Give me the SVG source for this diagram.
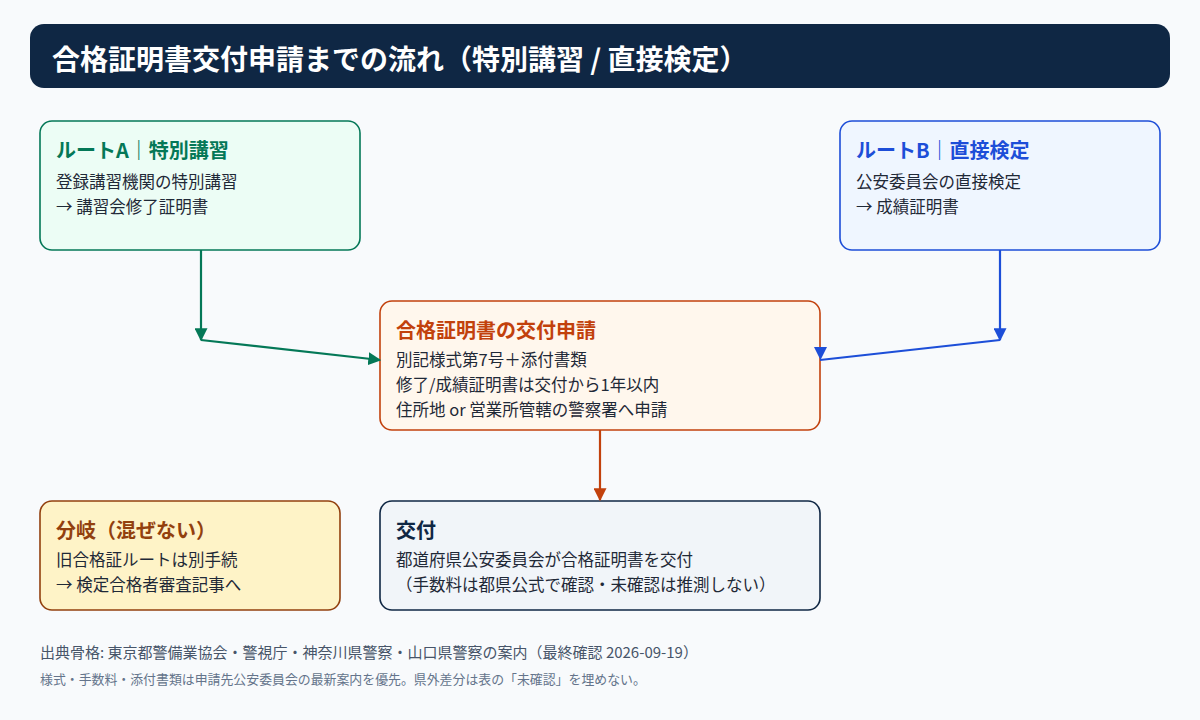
<svg xmlns="http://www.w3.org/2000/svg" width="1200" height="720" viewBox="0 0 1200 720">
<defs>
<style>
text{font-family:"Noto Sans CJK JP","Noto Sans",sans-serif;}
.t{font-size:20px;font-weight:700;}
.b{font-size:16.5px;fill:#1f2937;}
.box{stroke-width:1.6;}
</style>
<marker id="ag" viewBox="0 0 10 10" refX="9" refY="5" markerWidth="13" markerHeight="13" markerUnits="userSpaceOnUse" orient="auto"><path d="M0,0L10,5L0,10z" fill="#047857"/></marker>
<marker id="ab" viewBox="0 0 10 10" refX="9" refY="5" markerWidth="13" markerHeight="13" markerUnits="userSpaceOnUse" orient="auto"><path d="M0,0L10,5L0,10z" fill="#1d4ed8"/></marker>
<marker id="ao" viewBox="0 0 10 10" refX="9" refY="5" markerWidth="13" markerHeight="13" markerUnits="userSpaceOnUse" orient="auto"><path d="M0,0L10,5L0,10z" fill="#c2410c"/></marker>
</defs>
<rect width="1200" height="720" fill="#f8fafc"/>
<g id="title"><rect x="30" y="24" width="1140" height="64" rx="14" fill="#0f2744"/>
<text x="52" y="70" font-size="28" font-weight="700" fill="#fff">合格証明書交付申請までの流れ（特別講習 / 直接検定）</text></g>
<g id="routeA"><rect class="box" x="40" y="121" width="320" height="129" rx="12" fill="#ecfdf5" stroke="#047857"/>
<text class="t" x="56" y="158" fill="#047857">ルートA｜特別講習</text>
<text class="b" x="56" y="188">登録講習機関の特別講習</text>
<text class="b" x="56" y="213">→ 講習会修了証明書</text></g>
<g id="routeB"><rect class="box" x="840" y="121" width="320" height="129" rx="12" fill="#eff6ff" stroke="#1d4ed8"/>
<text class="t" x="856" y="158" fill="#1d4ed8">ルートB｜直接検定</text>
<text class="b" x="856" y="188">公安委員会の直接検定</text>
<text class="b" x="856" y="213">→ 成績証明書</text></g>
<g id="apply"><rect class="box" x="380" y="301" width="440" height="129" rx="12" fill="#fff7ed" stroke="#c2410c"/>
<text class="t" x="396" y="338" fill="#c2410c">合格証明書の交付申請</text>
<text class="b" x="396" y="366">別記様式第7号＋添付書類</text>
<text class="b" x="396" y="391">修了/成績証明書は交付から1年以内</text>
<text class="b" x="396" y="416">住所地 or 営業所管轄の警察署へ申請</text></g>
<g id="branch"><rect class="box" x="40" y="501" width="300" height="109" rx="12" fill="#fef3c7" stroke="#92400e"/>
<text class="t" x="56" y="538" fill="#92400e">分岐（混ぜない）</text>
<text class="b" x="56" y="566">旧合格証ルートは別手続</text>
<text class="b" x="56" y="591">→ 検定合格者審査記事へ</text></g>
<g id="issue"><rect class="box" x="380" y="501" width="440" height="109" rx="12" fill="#f1f5f9" stroke="#0f2744"/>
<text class="t" x="396" y="538" fill="#0f2744">交付</text>
<text class="b" x="396" y="566">都道府県公安委員会が合格証明書を交付</text>
<text class="b" x="396" y="591">（手数料は都県公式で確認・未確認は推測しない）</text></g>
<g id="connectors" fill="none" stroke-width="2.2">
<path d="M201,250V340" stroke="#047857" marker-end="url(#ag)"/>
<path d="M201,340L380,360" stroke="#047857" marker-end="url(#ag)"/>
<path d="M1000,250V340" stroke="#1d4ed8" marker-end="url(#ab)"/>
<path d="M1000,340L820,360" stroke="#1d4ed8"/>
<path d="M814,347L827,347L820.5,360z" fill="#1d4ed8" stroke="none"/>
<path d="M600,430V500" stroke="#c2410c" marker-end="url(#ao)"/>
</g>
<g id="notes">
<text x="40" y="658" font-size="15" fill="#475569">出典骨格: 東京都警備業協会・警視庁・神奈川県警察・山口県警察の案内（最終確認 2026-09-19）</text>
<text x="40" y="684" font-size="12.9" fill="#64748b">様式・手数料・添付書類は申請先公安委員会の最新案内を優先。県外差分は表の「未確認」を埋めない。</text></g>
</svg>
